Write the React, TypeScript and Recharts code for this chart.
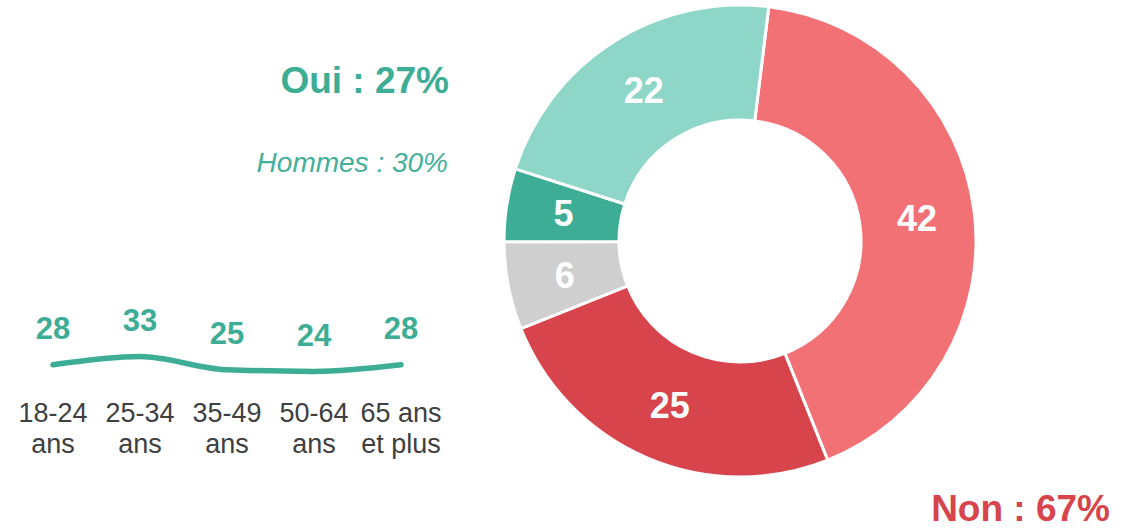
import React from 'react';
import { PieChart, Pie, Cell, LineChart, Line, XAxis, YAxis, LabelList } from 'recharts';

const donutNames = ['Non, plutôt pas', 'Non, pas du tout', 'Ne se prononce pas', 'Oui, tout à fait', 'Oui, plutôt'];
const donutValues = [42, 25, 6, 5, 22];
const donutColors = ['#F27175', '#D7444B', '#D0CFD0', '#3DAE95', '#8ED7C8'];

const ageLine1 = ['18-24', '25-34', '35-49', '50-64', '65 ans'];
const ageLine2 = ['ans', 'ans', 'ans', 'ans', 'et plus'];
const ageValues = [28, 33, 25, 24, 28];

const ouiLabel = 'Oui : 27%';
const hommesLabel = 'Hommes : 30%';
const nonLabel = 'Non : 67%';

const FONT = '"Liberation Sans", Arial, sans-serif';
const TEAL = '#3DAE95';
const RED = '#D7444B';

const donutData = donutValues.map((v, i) => ({ name: donutNames[i], value: v }));
const lineData = ageValues.map((v, i) => ({ name: ageLine1[i] + ' ' + ageLine2[i], l1: ageLine1[i], l2: ageLine2[i], value: v }));

const RADIAN = Math.PI / 180;

const renderPieLabel = (p: any) => {
  const r = (p.innerRadius + p.outerRadius) / 2;
  const x = p.cx + r * Math.cos(-p.midAngle * RADIAN);
  const y = p.cy + r * Math.sin(-p.midAngle * RADIAN);
  return (
    <text x={x} y={y} textAnchor="middle" dominantBaseline="central" fill="#FFFFFF" fontSize={36} fontWeight="bold" fontFamily={FONT}>
      {p.value}
    </text>
  );
};

const AgeTick = (p: any) => {
  const idx = p.index;
  return (
    <text x={p.x} y={p.y} textAnchor="middle" fill="#404040" fontSize={27} fontFamily={FONT}>
      <tspan x={p.x} dy={11}>{ageLine1[idx]}</tspan>
      <tspan x={p.x} dy={31}>{ageLine2[idx]}</tspan>
    </text>
  );
};

const ValueLabel = (p: any) => (
  <text x={p.x} y={p.y - 36} textAnchor="middle" dominantBaseline="central" fill={TEAL} fontSize={31} fontWeight="bold" fontFamily={FONT}>
    {p.value}
  </text>
);

export default function App() {
  return (
    <div style={{ position: 'absolute', left: 0, top: 0, width: 1142, height: 529, background: '#FFFFFF', fontFamily: FONT }}>
      <div style={{ position: 'absolute', left: 0, top: 0 }}>
        <PieChart width={1142} height={529} margin={{ top: 0, right: 0, bottom: 0, left: 0 }}>
          <Pie
            data={donutData}
            dataKey="value"
            nameKey="name"
            cx={740}
            cy={241}
            innerRadius={121}
            outerRadius={236}
            startAngle={83}
            endAngle={-277}
            stroke="#FFFFFF"
            strokeWidth={3}
            label={renderPieLabel}
            labelLine={false}
            isAnimationActive={false}
          >
            {donutData.map((d, i) => (
              <Cell key={d.name} fill={donutColors[i]} />
            ))}
          </Pie>
        </PieChart>
      </div>
      <div style={{ position: 'absolute', left: 0, top: 0 }}>
        <LineChart width={460} height={470} data={lineData} margin={{ top: 246, right: 59, bottom: 9, left: 53 }}>
          <XAxis dataKey="name" height={50} axisLine={false} tickLine={false} tickSize={0} tickMargin={0} interval={0} tick={<AgeTick />} />
          <YAxis hide domain={[0, 100]} />
          <Line type="monotone" dataKey="value" stroke={TEAL} strokeWidth={5.5} strokeLinecap="round" dot={false} activeDot={false} isAnimationActive={false}>
            <LabelList dataKey="value" content={<ValueLabel />} />
          </Line>
        </LineChart>
      </div>
      <svg width={1142} height={529} style={{ position: 'absolute', left: 0, top: 0, pointerEvents: 'none' }}>
        <text x={449} y={93} textAnchor="end" fill={TEAL} fontSize={37} fontWeight="bold" fontFamily={FONT}>{ouiLabel}</text>
        <text x={448} y={172} textAnchor="end" fill="#45B09A" fontSize={28} fontStyle="italic" fontFamily={FONT}>{hommesLabel}</text>
        <text x={1110} y={521} textAnchor="end" fill={RED} fontSize={37} fontWeight="bold" fontFamily={FONT}>{nonLabel}</text>
      </svg>
    </div>
  );
}
